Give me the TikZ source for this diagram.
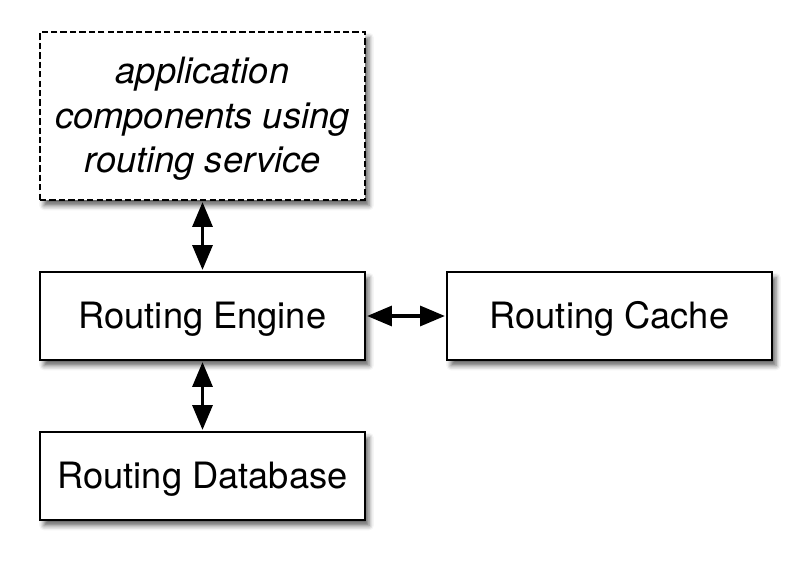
\documentclass[tikz,border=0pt]{standalone}
\usepackage{fontspec}
\setmainfont{TeX Gyre Heros}
\usetikzlibrary{arrows.meta,shadows.blur}
\tikzset{
	box/.style={draw, line width=1pt, fill=white, minimum width=8.125cm, align=center,
		font=\fontsize{25.8}{31.6}\selectfont, text depth=0.05cm,
		blur shadow={shadow xshift=0.1cm, shadow yshift=-0.14cm, shadow blur radius=0.12cm, shadow opacity=60}},
	link/.style={line width=2.2pt, {Triangle[width=0.5cm,length=0.62cm]}-{Triangle[width=0.5cm,length=0.62cm]}, shorten <=1pt, shorten >=1pt}
}
\begin{document}
\begin{tikzpicture}
			\useasboundingbox (0,0) rectangle (20.3,14.2);
			\draw 
			(5.0625,11.3) node[box, dash pattern=on 4.5pt off 2.2pt, minimum height=4.2cm](app){\itshape application\\ \itshape components using\\ \itshape routing service}
			(5.0625,6.3) node[box, minimum height=2.2cm](eng){Routing Engine}
			(15.2375,6.3) node[box, minimum height=2.2cm](cache){Routing Cache}
			(5.0625,2.3) node[box, minimum height=2.2cm](db){Routing Database};
			
			\draw[link] (app) -- (eng);
			\draw[link] (eng) -- (cache);
			\draw[link] (eng) -- (db);
			
		\end{tikzpicture}
\end{document}
